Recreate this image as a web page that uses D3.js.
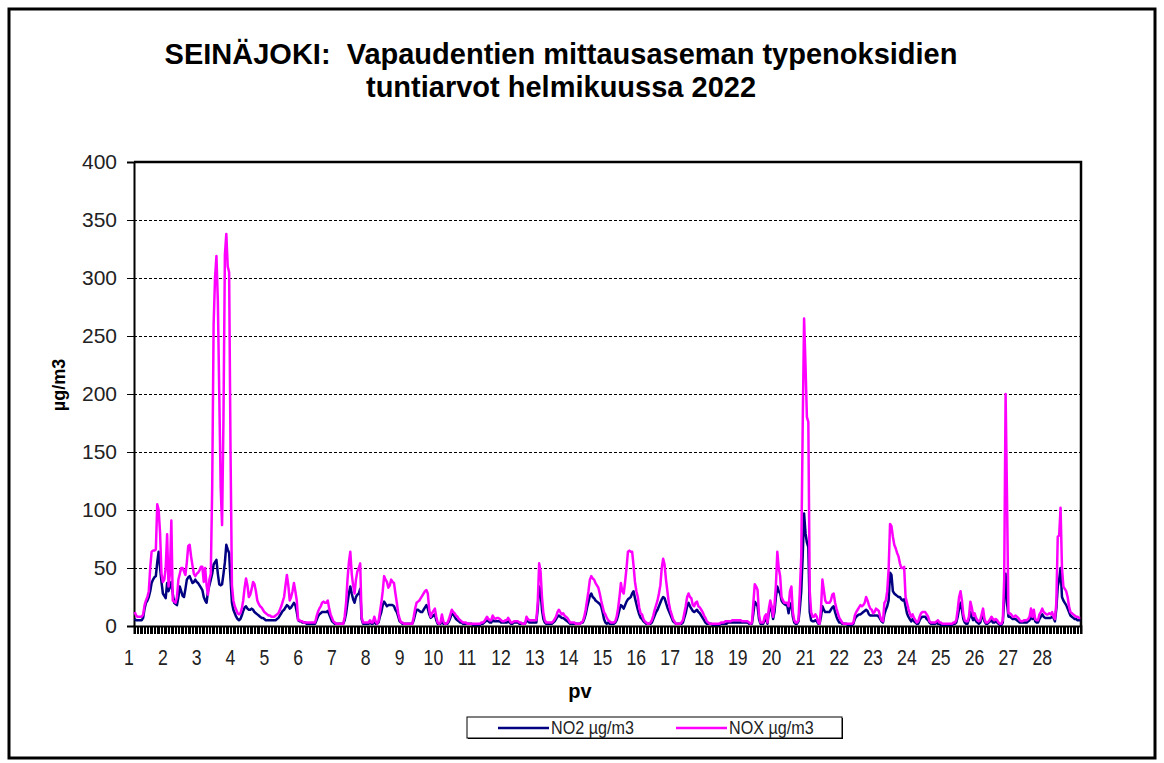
<!DOCTYPE html>
<html>
<head>
<meta charset="utf-8">
<script src="https://cdn.jsdelivr.net/npm/d3@7/dist/d3.min.js"></script>
<style>
  body { margin: 0; background: #fff; }
  svg { display: block; font-family: "Liberation Sans", Arial, sans-serif; }
  text { white-space: pre; }
</style>
</head>
<body>
<div id="chart"></div>
<script>
'use strict';

// hourly values, one row per day of February 2022
var no2 = [
  [6,5,5,5,5,5,7,15,20,22,25,30,37,40,42,43,55,64,50,38,28,26,24,37],
  [30,34,38,28,20,19,18,25,34,30,26,25,32,40,42,43,40,37,38,40,38,37,35,33],
  [31,25,22,20,30,35,40,45,53,55,57,45,36,35,36,45,55,70,66,63,40,20,14,11],
  [8,6,5,6,9,13,16,17,15,14,14,15,14,12,11,10,9,8,7,7,6,5,5,5],
  [5,5,5,5,5,6,7,9,11,13,14,16,18,17,15,16,18,20,18,12,5,4,4,3],
  [3,3,2,2,2,2,2,2,2,5,8,10,11,12,12,12,12,13,10,7,4,3,2,2],
  [2,2,2,2,2,5,11,20,28,34,28,23,20,25,27,28,32,6,2,2,2,2,2,3],
  [2,2,5,2,2,3,8,12,18,21,19,17,18,18,18,18,17,14,12,8,4,3,2,2],
  [2,2,2,2,2,2,5,10,14,14,13,12,12,14,16,18,15,10,7,8,9,10,5,2],
  [2,2,5,2,2,2,2,4,7,11,10,8,6,5,4,3,3,2,2,2,2,2,2,2],
  [1,1,1,1,1,1,2,2,3,4,5,4,3,3,5,4,4,4,4,4,3,3,3,3],
  [3,4,3,2,2,3,3,3,3,2,2,2,2,2,5,4,3,3,3,3,3,3,15,34],
  [30,14,6,3,2,2,2,2,2,3,4,6,8,9,8,7,7,6,5,4,3,2,2,2],
  [2,2,2,2,2,3,3,6,10,16,21,26,28,25,24,22,21,20,19,17,12,6,3,2],
  [3,2,2,2,2,3,5,9,14,18,17,15,18,21,23,24,25,28,30,24,19,14,10,7],
  [6,4,3,2,2,2,2,3,6,9,12,14,17,20,23,25,24,20,16,13,10,7,4,3],
  [2,2,2,2,2,3,7,11,17,20,17,15,13,12,13,14,12,11,9,7,5,3,2,2],
  [2,2,1,1,1,1,1,1,2,2,2,2,2,3,3,3,3,3,3,3,3,3,3,3],
  [3,3,3,3,2,2,2,11,21,19,17,6,2,2,2,5,6,2,12,17,13,6,12,25],
  [34,30,28,22,20,19,18,18,11,18,20,8,3,2,2,4,15,30,60,97,80,72,68,12],
  [5,4,4,5,4,2,2,8,17,14,12,12,12,12,14,16,17,12,8,5,3,3,2,2],
  [2,2,1,1,1,1,2,6,8,9,10,10,11,12,13,14,13,10,9,9,9,9,9,9],
  [8,6,4,3,10,14,17,22,46,44,30,28,27,26,25,25,23,22,23,17,11,8,6,4],
  [6,4,3,2,2,5,7,8,8,8,6,5,3,2,2,2,2,3,2,2,1,1,1,1],
  [1,1,1,1,1,2,2,3,8,15,20,14,6,3,2,2,6,12,8,5,7,4,3,2],
  [3,7,10,4,2,2,3,4,5,3,3,4,3,2,1,1,3,22,45,20,8,8,7,6],
  [6,6,5,4,3,3,3,3,3,3,4,5,10,6,9,4,3,3,6,8,10,8,7,7],
  [7,7,7,8,7,4,15,34,40,50,25,22,20,18,15,12,9,8,7,6,6,5,5,5]
];

var nox = [
  [12,9,8,8,8,8,10,18,22,25,30,50,64,65,65,66,105,100,80,45,38,40,50,79],
  [34,45,91,22,21,20,25,40,45,50,50,47,44,55,69,70,60,52,45,43,45,46,48,51],
  [51,38,50,35,27,40,45,120,260,300,319,280,200,120,87,180,320,338,310,305,150,35,22,17],
  [14,11,10,11,15,22,33,41,35,25,27,32,38,36,30,22,19,17,16,14,12,11,10,9],
  [9,8,8,8,9,10,11,14,17,21,25,35,44,35,22,25,30,37,30,22,5,5,4,4],
  [3,3,3,3,3,3,3,3,3,8,12,15,17,20,21,20,20,22,15,10,7,4,3,2],
  [2,2,2,2,2,8,20,40,55,64,45,35,28,40,47,50,54,8,3,3,3,3,3,5],
  [3,3,8,4,2,4,12,20,30,43,40,38,33,35,40,38,37,28,20,11,6,3,3,2],
  [2,2,2,2,2,2,8,15,20,21,22,24,26,28,30,31,28,14,8,11,13,15,8,3],
  [2,3,10,4,2,2,3,6,10,14,12,11,9,8,6,5,4,3,3,3,2,2,2,2],
  [2,2,2,2,2,2,3,3,4,6,8,6,5,5,9,7,6,7,7,6,5,4,4,5],
  [5,7,5,3,3,4,4,4,4,3,3,2,2,2,8,6,5,5,5,5,5,5,20,54],
  [47,25,11,5,3,3,3,3,3,4,6,8,12,14,12,10,11,9,8,7,5,3,3,3],
  [3,2,2,2,2,3,4,8,14,22,30,40,43,41,40,37,35,33,28,22,17,12,10,7],
  [5,4,3,3,3,4,8,15,25,37,30,28,38,50,64,65,64,64,52,38,30,25,16,11],
  [10,6,4,3,2,2,3,5,9,14,18,22,28,35,50,58,53,40,30,20,14,10,6,4],
  [2,2,2,2,3,5,11,17,25,28,25,24,18,17,20,21,17,16,14,12,9,7,4,3],
  [2,2,2,2,2,2,2,2,3,3,3,4,4,4,4,4,5,5,5,5,5,5,5,4],
  [4,4,4,4,3,2,3,20,36,34,31,10,3,3,3,8,10,3,15,22,17,8,18,35],
  [64,50,43,25,22,20,20,20,17,30,34,12,5,3,3,5,30,60,170,265,225,180,176,30],
  [12,8,8,10,8,3,2,15,40,31,22,20,20,20,22,27,28,20,15,11,7,5,3,2],
  [2,2,2,2,2,2,3,9,12,14,16,18,17,18,20,25,22,18,15,14,11,12,15,14],
  [13,8,5,4,20,22,30,49,88,86,77,70,67,63,60,54,50,50,51,25,20,15,11,8],
  [10,7,5,3,4,8,11,12,12,12,10,8,4,3,3,3,3,4,5,3,3,2,2,2],
  [2,2,2,2,2,3,3,5,14,25,30,22,10,5,4,4,8,21,16,9,11,7,5,4],
  [5,10,15,6,3,3,4,6,8,6,5,6,5,3,2,2,5,40,200,110,11,11,10,8],
  [8,9,8,7,5,4,4,5,5,5,6,8,15,8,14,6,5,5,10,12,15,12,11,10],
  [10,11,10,12,8,6,20,77,78,102,50,34,32,30,25,17,12,11,10,9,8,8,7,7]
];

var dayLabels = d3.range(1, 29).map(String);
var yTicks = [0, 50, 100, 150, 200, 250, 300, 350, 400];
var titleLines = ['SEINÄJOKI:  Vapaudentien mittausaseman typenoksidien', 'tuntiarvot helmikuussa 2022'];
var series = [
  { name: 'NO2 µg/m3', color: '#000080', values: no2 },
  { name: 'NOX µg/m3', color: '#ff00ff', values: nox }
];

var W = 1164, H = 763;
var plot = { left: 134, right: 1081, top: 162, bottom: 626 };
var hours = dayLabels.length * 24;

var svg = d3.select('#chart').append('svg')
  .attr('width', W).attr('height', H);

// page frame
svg.append('rect').attr('x', 9).attr('y', 9).attr('width', W - 18).attr('height', H - 14)
  .attr('fill', 'none').attr('stroke', '#000').attr('stroke-width', 3);

svg.selectAll('text.title').data(titleLines).enter().append('text')
  .attr('class', 'title')
  .attr('x', 561).attr('y', function(d, i) { return 64 + i * 33; })
  .attr('text-anchor', 'middle')
  .style('font-size', '29px').style('font-weight', 'bold')
  .text(function(d) { return d; });

var x = d3.scaleLinear().domain([0, hours]).range([plot.left, plot.right]);
var y = d3.scaleLinear().domain([0, 400]).range([plot.bottom, plot.top]);

// gridlines
svg.append('g').selectAll('line').data(yTicks.filter(function(v) { return v > 0 && v < 400; }))
  .enter().append('line')
  .attr('x1', plot.left).attr('x2', plot.right)
  .attr('y1', function(d) { return Math.round(y(d)) + 0.5; })
  .attr('y2', function(d) { return Math.round(y(d)) + 0.5; })
  .attr('stroke', '#000').attr('stroke-width', 1).attr('stroke-dasharray', '3,2');

// y axis
var yAxis = d3.axisLeft(y).tickValues(yTicks).tickSize(7).tickPadding(10);
var gy = svg.append('g').attr('transform', 'translate(' + plot.left + ',0)').call(yAxis);
gy.select('.domain').attr('stroke-width', 2);
gy.selectAll('text').style('font-size', '21px').attr('fill', '#222');

svg.append('text')
  .attr('transform', 'translate(65,385) rotate(-90)')
  .attr('text-anchor', 'middle')
  .style('font-size', '18px').style('font-weight', 'bold')
  .text('µg/m3');

// top and right frame of plot area
svg.append('path')
  .attr('d', 'M' + plot.left + ',' + plot.top + 'H' + plot.right + 'V' + plot.bottom)
  .attr('fill', 'none').attr('stroke', '#000').attr('stroke-width', 2.5);

// x axis: a tick every hour, labels at day starts
var xAxis = d3.axisBottom(x).tickValues(d3.range(0, hours + 1)).tickSize(8).tickFormat('');
var gx = svg.append('g').attr('transform', 'translate(0,' + plot.bottom + ')').call(xAxis);
gx.select('.domain').attr('stroke-width', 2);
gx.selectAll('.tick line').attr('shape-rendering', 'crispEdges');

svg.append('g').selectAll('text').data(dayLabels).enter().append('text')
  .attr('x', function(d, i) { return x(i * 24) - 5; })
  .attr('y', 665)
  .attr('text-anchor', 'middle')
  .style('font-size', '22px').attr('fill', '#222')
  .attr('transform', function(d, i) { var cx = x(i * 24) - 5; return 'translate(' + cx + ',0) scale(0.8,1) translate(' + (-cx) + ',0)'; })
  .text(function(d) { return d; });

svg.append('text')
  .attr('x', 580).attr('y', 698)
  .attr('text-anchor', 'middle')
  .style('font-size', '20px').style('font-weight', 'bold')
  .text('pv');

// lines
var line = d3.line()
  .x(function(d) { return x(d.h + 0.5); })
  .y(function(d) { return y(d.v); });

series.forEach(function(s) {
  var pts = [];
  s.values.forEach(function(day, di) {
    day.forEach(function(v, hi) { pts.push({ h: di * 24 + hi, v: v }); });
  });
  svg.append('path').datum(pts)
    .attr('d', line)
    .attr('fill', 'none')
    .attr('stroke', s.color)
    .attr('stroke-width', 2.5)
    .attr('stroke-linejoin', 'round');
});

// legend
var lg = svg.append('g').attr('transform', 'translate(467,717)');
lg.append('rect').attr('x', 1).attr('y', 1).attr('width', 375).attr('height', 21).attr('fill', '#000');
lg.append('rect').attr('width', 375).attr('height', 21).attr('fill', '#fff').attr('stroke', '#000');
var items = lg.selectAll('g.item').data(series).enter().append('g')
  .attr('class', 'item')
  .attr('transform', function(d, i) { return 'translate(' + (31 + i * 178) + ',0)'; });
items.append('line')
  .attr('x1', 0).attr('x2', 51).attr('y1', 11).attr('y2', 11)
  .attr('stroke', function(d) { return d.color; }).attr('stroke-width', 2.5);
items.append('text')
  .attr('x', 53).attr('y', 17)
  .style('font-size', '19px').attr('fill', '#222')
  .attr('transform', 'translate(53,0) scale(0.85,1) translate(-53,0)')
  .text(function(d) { return d.name; });
</script>
</body>
</html>
